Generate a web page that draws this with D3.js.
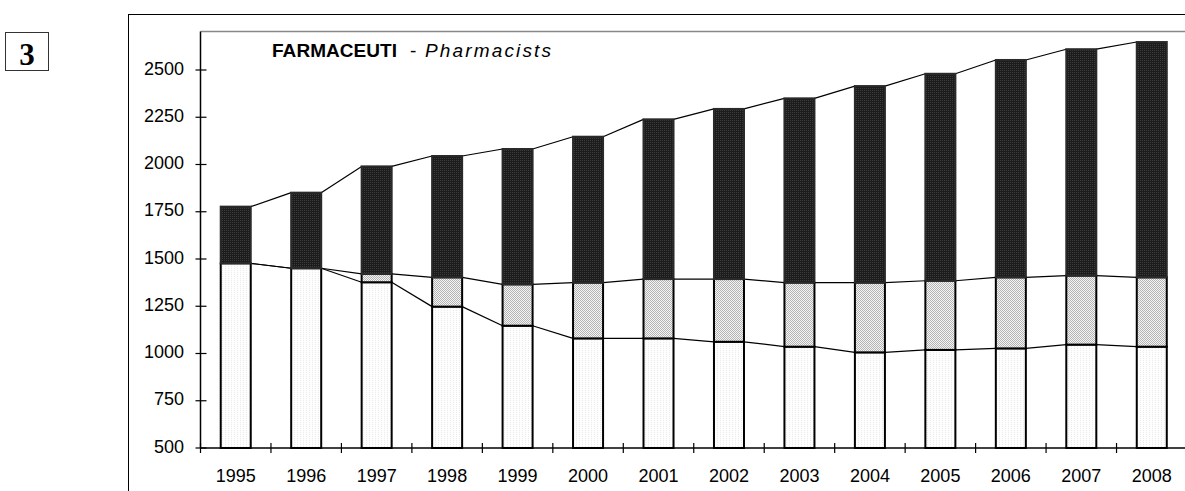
<!DOCTYPE html>
<html>
<head>
<meta charset="utf-8">
<script src="https://cdn.jsdelivr.net/npm/d3@7"></script>
<style>
  body { margin: 0; background: #fff; }
  text { font-family: "Liberation Sans", Arial, sans-serif; }
</style>
</head>
<body>
<div id="chart"></div>
<script>
// values
var years = ["1995", "1996", "1997", "1998", "1999", "2000", "2001",
             "2002", "2003", "2004", "2005", "2006", "2007", "2008"];
var seriesBottom = [1477, 1451, 1377, 1248, 1147, 1080, 1080, 1062, 1036, 1006, 1019, 1027, 1047, 1036];
var seriesMiddle = [0, 0, 44, 155, 219, 295, 314, 332, 339, 369, 366, 376, 365, 367];
var seriesTop = [300, 400, 569, 642, 716, 772, 845, 900, 975, 1040, 1095, 1150, 1198, 1245];
var yTicks = [500, 750, 1000, 1250, 1500, 1750, 2000, 2250, 2500];

(function() {
  var width = 1185, height = 491;
  var plotLeft = 200.5, plotTop = 31.5, plotBottom = 448;

  var svg = d3.select("#chart")
      .append("svg")
      .attr("width", width)
      .attr("height", height)

  var defs = svg.append("defs")

  // light, almost white dotted fill
  var p1 = defs.append("pattern").attr("id", "fillBottom")
      .attr("width", 3).attr("height", 2).attr("patternUnits", "userSpaceOnUse")
  p1.append("rect").attr("width", 3).attr("height", 2).attr("fill", "#fefefe")
  p1.append("rect").attr("width", 1).attr("height", 1).attr("fill", "#ebebeb")

  // grey checker fill
  var p2 = defs.append("pattern").attr("id", "fillMiddle")
      .attr("width", 2).attr("height", 2).attr("patternUnits", "userSpaceOnUse")
  p2.append("rect").attr("width", 2).attr("height", 2).attr("fill", "#f4f4f4")
  p2.append("rect").attr("width", 1).attr("height", 1).attr("fill", "#b4b4b4")
  p2.append("rect").attr("x", 1).attr("y", 1).attr("width", 1).attr("height", 1).attr("fill", "#b4b4b4")

  // dark fill
  var p3 = defs.append("pattern").attr("id", "fillTop")
      .attr("width", 2).attr("height", 2).attr("patternUnits", "userSpaceOnUse")
  p3.append("rect").attr("width", 2).attr("height", 2).attr("fill", "#1c1c1c")
  p3.append("rect").attr("width", 1).attr("height", 1).attr("fill", "#3c3c3c")

  // the "3" box
  svg.append("rect")
      .attr("x", 5.5).attr("y", 32.5)
      .attr("width", 43).attr("height", 38)
      .attr("fill", "none").attr("stroke", "#333").attr("stroke-width", 1)
  svg.append("text")
      .text("3")
      .attr("x", 27).attr("y", 65)
      .attr("text-anchor", "middle")
      .style("font-family", "'Liberation Serif', 'Times New Roman', serif")
      .style("font-weight", "bold")
      .attr("font-size", "31px")

  // outer frame, runs off the page right and bottom
  svg.append("rect")
      .attr("x", 128.5).attr("y", 14.5)
      .attr("width", 1200).attr("height", 600)
      .attr("fill", "none").attr("stroke", "#000").attr("stroke-width", 1)

  // plot area top edge
  svg.append("line")
      .attr("x1", plotLeft).attr("x2", width + 10)
      .attr("y1", plotTop).attr("y2", plotTop)
      .attr("stroke", "#888").attr("stroke-width", 1.5)

  var x = d3.scaleBand()
      .domain(years)
      .range([plotLeft, 1187])
      .paddingInner(0.574)
      .paddingOuter(0.287)

  var y = d3.scaleLinear()
      .domain([500, 2500])
      .range([plotBottom, 70])

  var table = years.map(function(yr, i) {
    return { year: yr, bottom: seriesBottom[i], middle: seriesMiddle[i], top: seriesTop[i] }
  })

  var stack = d3.stack().keys(["bottom", "middle", "top"])
  var layers = stack(table)
  var fills = { bottom: "url(#fillBottom)", middle: "url(#fillMiddle)", top: "url(#fillTop)" }

  // series lines between neighbouring bars
  layers.forEach(function(layer) {
    for (var i = 0; i < layer.length - 1; i++) {
      svg.append("line")
          .attr("x1", x(years[i]) + x.bandwidth())
          .attr("y1", y(layer[i][1]))
          .attr("x2", x(years[i + 1]))
          .attr("y2", y(layer[i + 1][1]))
          .attr("stroke", "#000")
          .attr("stroke-width", 1.2)
    }
  })

  layers.forEach(function(layer) {
    svg.append("g").selectAll("rect")
      .data(layer.filter(function(d) { return d[1] > d[0] }))
      .enter().append("rect")
      .attr("x", function(d) { return x(d.data.year) })
      .attr("y", function(d) { return y(d[1]) })
      .attr("width", x.bandwidth())
      .attr("height", function(d) { return y(Math.max(d[0], 500)) - y(d[1]) })
      .attr("fill", fills[layer.key])
      .attr("stroke", layer.key === "top" ? "#2a2a2a" : "#000")
      .attr("stroke-width", 2)
  })

  // y axis
  svg.append("line")
      .attr("x1", plotLeft).attr("x2", plotLeft)
      .attr("y1", plotTop).attr("y2", plotBottom)
      .attr("stroke", "#000").attr("stroke-width", 1.5)

  svg.selectAll(".ytick")
      .data(yTicks)
      .enter().append("line")
      .attr("class", "ytick")
      .attr("x1", plotLeft - 5).attr("x2", plotLeft + 6)
      .attr("y1", function(d) { return y(d) })
      .attr("y2", function(d) { return y(d) })
      .attr("stroke", "#000").attr("stroke-width", 1.2)

  svg.selectAll(".ylabel")
      .data(yTicks)
      .enter().append("text")
      .attr("class", "ylabel")
      .text(function(d) { return d })
      .attr("x", 184)
      .attr("y", function(d) { return y(d) + 4.5 })
      .attr("text-anchor", "end")
      .attr("font-size", "18px")
      .attr("fill", "#000")

  // x axis
  svg.append("line")
      .attr("x1", plotLeft).attr("x2", width + 10)
      .attr("y1", plotBottom).attr("y2", plotBottom)
      .attr("stroke", "#000").attr("stroke-width", 1.5)

  svg.selectAll(".xtick")
      .data(years)
      .enter().append("line")
      .attr("class", "xtick")
      .attr("x1", function(d) { return x(d) - x.step() * x.paddingInner() / 2 })
      .attr("x2", function(d) { return x(d) - x.step() * x.paddingInner() / 2 })
      .attr("y1", plotBottom - 5).attr("y2", plotBottom + 5)
      .attr("stroke", "#000").attr("stroke-width", 1.2)

  svg.selectAll(".xlabel")
      .data(years)
      .enter().append("text")
      .attr("class", "xlabel")
      .text(function(d) { return d })
      .attr("x", function(d) { return x(d) + x.bandwidth() / 2 })
      .attr("y", 481.5)
      .attr("text-anchor", "middle")
      .attr("font-size", "18px")
      .attr("fill", "#000")

  // title
  svg.append("text")
      .text("FARMACEUTI")
      .attr("x", 272)
      .attr("y", 57)
      .attr("font-size", "19px")
      .style("font-weight", "bold")
      .attr("textLength", 125)

  svg.append("text")
      .text("-")
      .attr("x", 410)
      .attr("y", 57)
      .attr("font-size", "19px")

  svg.append("text")
      .text("Pharmacists")
      .attr("x", 425)
      .attr("y", 57)
      .attr("font-size", "19px")
      .style("font-style", "italic")
      .attr("textLength", 126)

})();
</script>
</body>
</html>
